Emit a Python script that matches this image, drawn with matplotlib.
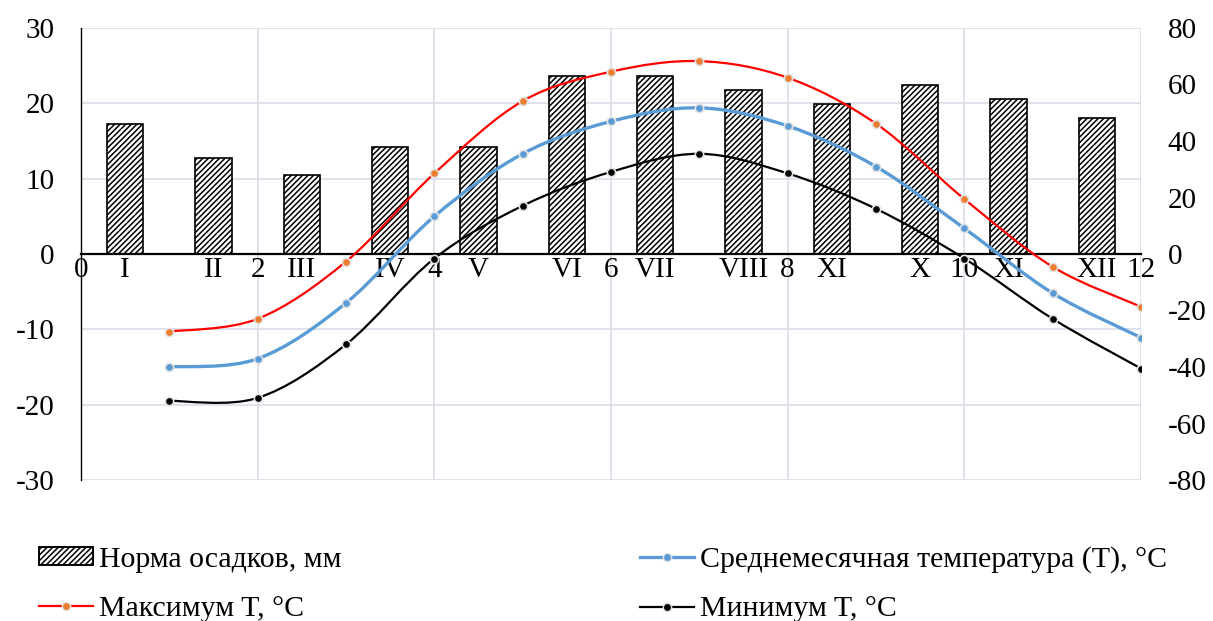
import numpy as np
import matplotlib
matplotlib.use("Agg")
from matplotlib import pyplot as plt
from matplotlib.path import Path
from matplotlib.patches import PathPatch, Patch
from matplotlib.lines import Line2D

# climate data by month
months = np.arange(1, 13)
month_labels = ["I", "II", "III", "IV", "V", "VI", "VII", "VIII", "XI", "X", "XI", "XII"]
precip = [46, 34, 28, 38, 38, 63, 63, 58, 53, 60, 55, 48]  # mm, right axis
t_mean = [-15.0, -13.9, -6.5, 5.0, 13.3, 17.6, 19.4, 17.0, 11.6, 3.4, -5.2, -11.1]
t_max = [-10.3, -8.6, -1.0, 10.7, 20.3, 24.2, 25.6, 23.4, 17.3, 7.3, -1.7, -7.0]
t_min = [-19.5, -19.1, -12.0, -0.6, 6.4, 10.9, 13.3, 10.7, 6.0, -0.6, -8.6, -15.2]

plt.rcParams["font.family"] = ["Liberation Serif", "DejaVu Serif"]
plt.rcParams["axes.unicode_minus"] = False
plt.rcParams["hatch.linewidth"] = 1.1
FS = 21
GRID = "#d9dde6"
HATCH = "//////"


def smooth_path(x, y):
    # Excel-like smoothed line: cubic bezier segments through the points
    pts = np.column_stack([x, y]).astype(float)
    n = len(pts)
    verts = [pts[0]]
    codes = [Path.MOVETO]
    for i in range(n - 1):
        p0 = pts[i - 1] if i > 0 else pts[i]
        p1 = pts[i]
        p2 = pts[i + 1]
        p3 = pts[i + 2] if i + 2 < n else pts[i + 1]
        verts += [p1 + (p2 - p0) / 6, p2 - (p3 - p1) / 6, p2]
        codes += [Path.CURVE4] * 3
    return Path(verts, codes)


fig = plt.figure(figsize=(12.13, 6.21), dpi=100)
ax = fig.add_axes([81 / 1213, 1 - 480 / 621, 1060 / 1213, 452 / 621])
ax2 = ax.twinx()

ax.set_xlim(0, 12)
ax.set_ylim(-30, 30)
ax2.set_ylim(-80, 80)

# precipitation bars (right axis scale) drawn under the temperature lines
ax.bar(months - 0.5, precip, width=0.41, facecolor="white", edgecolor="black",
       linewidth=1.2, hatch=HATCH, transform=ax2.transData, zorder=1)

series = [
    (t_max, "red", "#ED7D31", 1.6),
    (t_mean, "#5B9BD5", "#5B9BD5", 2.4),
    (t_min, "black", "black", 1.6),
]
for vals, lc, mc, lw in series:
    ax.add_patch(PathPatch(smooth_path(months, vals), fill=False, edgecolor=lc,
                           linewidth=lw, zorder=3))
    ax.plot(months, vals, ls="none", marker="o", markersize=6, markerfacecolor=mc,
            markeredgecolor="#e4e4e4", markeredgewidth=1.2, zorder=4)

# axes styling
ax.set_yticks(np.arange(-30, 31, 10))
ax2.set_yticks(np.arange(-80, 81, 20))
ax.set_xticks(np.arange(0, 13, 2))
ax.set_xticks(months - 0.5, labels=month_labels, minor=True)
ax.grid(True, which="major", color=GRID, linewidth=1.2)
ax.set_axisbelow(True)
ax.spines["bottom"].set_position(("data", 0))
ax.spines["bottom"].set_linewidth(1.6)
ax.spines["left"].set_linewidth(1.0)
for s in ["top", "right"]:
    ax.spines[s].set_visible(False)
for s in ax2.spines.values():
    s.set_visible(False)
ax.tick_params(axis="y", length=0, pad=19, labelsize=FS)
ax2.tick_params(axis="y", length=0, pad=19, labelsize=FS)
ax.tick_params(axis="x", which="both", length=0, pad=2, labelsize=FS)

handles = [
    Patch(facecolor="white", edgecolor="black", hatch=HATCH, linewidth=1.4),
    Line2D([], [], color="red", lw=1.6, marker="o", markersize=6,
           markerfacecolor="#ED7D31", markeredgecolor="#e4e4e4"),
    Line2D([], [], color="#5B9BD5", lw=2.4, marker="o", markersize=6,
           markerfacecolor="#5B9BD5", markeredgecolor="#e4e4e4"),
    Line2D([], [], color="black", lw=1.6, marker="o", markersize=6,
           markerfacecolor="black", markeredgecolor="#e4e4e4"),
]
labels = ["Норма осадков, мм", "Максимум T, °C",
          "Среднемесячная температура (T), °C", "Минимум T, °C"]
fig.legend(handles, labels, loc="upper left", bbox_to_anchor=(39 / 1213, 1 - 546 / 621),
           ncol=2, frameon=False, fontsize=21.5, borderpad=0, borderaxespad=0,
           handlelength=1.8, handleheight=0.5, handletextpad=0.2, labelspacing=0.78,
           columnspacing=10.0)

fig.savefig("out.png", dpi=100)
